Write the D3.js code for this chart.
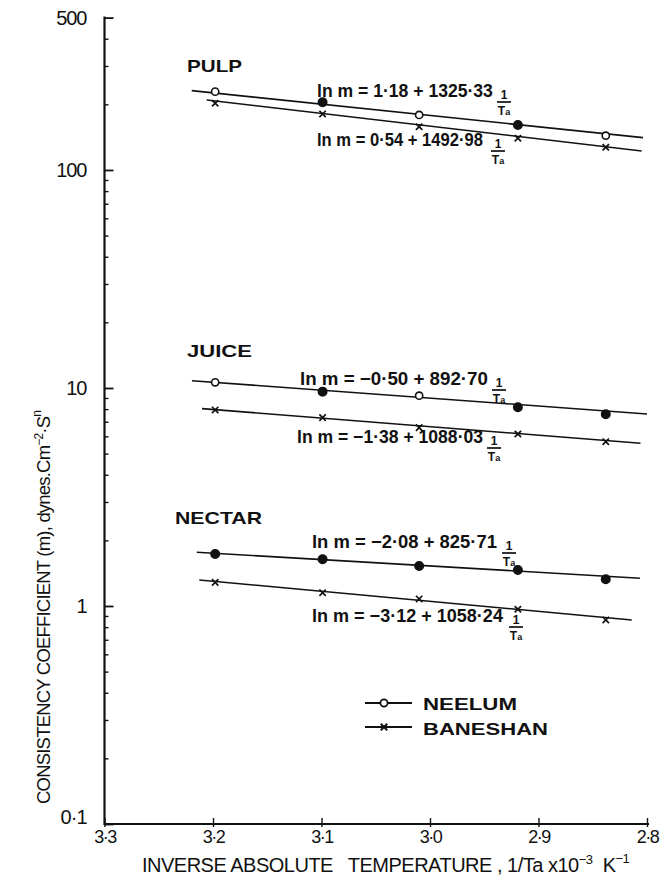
<!DOCTYPE html>
<html>
<head>
<meta charset="utf-8">
<script src="https://cdn.jsdelivr.net/npm/d3@7"></script>
<style>
  html, body { margin: 0; padding: 0; background: #fff; }
  svg { display: block; }
  text { font-family: "Liberation Sans", "DejaVu Sans", sans-serif; fill: #111; white-space: pre; }
</style>
</head>
<body>
<svg id="chart" width="669" height="877"></svg>
<script>
// ---------------- DATA ----------------
const categories = ["PULP", "JUICE", "NECTAR"];
const seriesNames = ["NEELUM", "BANESHAN"];
const invTemp = [3.198, 3.099, 3.010, 2.919, 2.838];   // 1/Ta x10^-3 K^-1

const neelumPulp     = [228.7, 204.5, 178.8, 160.9, 143.6];
const baneshanPulp   = [202.3, 180.7, 157.9, 139.8, 127.1];
const neelumJuice    = [10.62, 9.62, 9.22, 8.16, 7.58];
const baneshanJuice  = [7.93, 7.31, 6.58, 6.15, 5.67];
const neelumNectar   = [1.732, 1.638, 1.526, 1.463, 1.326];
const baneshanNectar = [1.284, 1.151, 1.077, 0.966, 0.863];

// open (hollow) vs filled circle for the Neelum points, as in the original
const neelumPulpOpen   = [true, false, true, false, true];
const neelumJuiceOpen  = [true, false, true, false, false];
const neelumNectarOpen = [false, false, false, false, false];

// fitted straight lines: [1/Ta, m] end points
const neelumPulpFit     = [[3.2196, 231.1], [2.8037, 140.7]];
const baneshanPulpFit   = [[3.2058, 209.5], [2.8049, 122.2]];
const neelumJuiceFit    = [[3.2194, 10.80], [2.8000, 7.60]];
const baneshanJuiceFit  = [[3.2101, 8.04],  [2.8060, 5.58]];
const neelumNectarFit   = [[3.2150, 1.763], [2.8065, 1.340]];
const baneshanNectarFit = [[3.2126, 1.316], [2.8141, 0.863]];

const eqNeelum   = ["ln m = 1·18 + 1325·33", "ln m = −0·50 + 892·70", "ln m = −2·08 + 825·71"];
const eqBaneshan = ["ln m = 0·54 + 1492·98", "ln m = −1·38 + 1088·03", "ln m = −3·12 + 1058·24"];

const xTicks = [3.3, 3.2, 3.1, 3.0, 2.9, 2.8];
const xTickLabels = ["3·3", "3·2", "3·1", "3·0", "2·9", "2·8"];
const yTicks = [0.1, 1, 10, 100, 500];
const yTickLabels = ["0·1", "1", "10", "100", "500"];

// ---------------- LAYOUT ----------------
const svg = d3.select("#chart");
const X0 = 104.5, X1 = 647, Y0 = 824, YTOP = 17.6;
const x = d3.scaleLinear().domain([3.3, 2.8]).range([X0, X1]);
const y = d3.scaleLog().domain([0.1, 500]).range([Y0, YTOP]);

const ink = "#111";

// y axis (ticks inside, labels outside)
const yAxis = d3.axisLeft(y)
  .tickValues(yTicks)
  .tickSize(-9)
  .tickPadding(18)
  .tickFormat(d => yTickLabels[yTicks.indexOf(d)]);
const gy = svg.append("g").attr("transform", `translate(${X0},0)`).call(yAxis);
gy.select(".domain").remove();
gy.selectAll(".tick line").attr("stroke", ink).attr("stroke-width", 1.8);
gy.selectAll(".tick text")
  .attr("font-size", 20).attr("fill", ink)
  .style("font-family", "'Liberation Sans', sans-serif")
  .attr("letter-spacing", -1);
gy.selectAll(".tick").filter(d => d === 0.1).select("text").attr("dy", "-0.05em");

// minor ticks
const minor = [];
[0.1, 1, 10, 100].forEach(dec => { for (let k = 2; k <= 9; k++) { const v = dec * k; if (v < 500) minor.push(v); } });
const gyMinor = svg.append("g").attr("transform", `translate(${X0},0)`)
  .call(d3.axisRight(y).tickValues(minor).tickSize(4).tickFormat(""));
gyMinor.select(".domain").remove();
gyMinor.selectAll(".tick line").attr("stroke", ink).attr("stroke-width", 1.4);

svg.append("line").attr("x1", X0).attr("x2", X0).attr("y1", YTOP - 1).attr("y2", Y0 + 1)
  .attr("stroke", ink).attr("stroke-width", 2.2);

// x axis
const xAxis = d3.axisBottom(x).tickValues(xTicks).tickSize(-6).tickPadding(6)
  .tickFormat(d => xTickLabels[xTicks.indexOf(d)]);
const gx = svg.append("g").attr("transform", `translate(0,${Y0})`).call(xAxis);
gx.select(".domain").remove();
gx.selectAll(".tick line").attr("stroke", ink).attr("stroke-width", 1.4).attr("y2", -6).attr("y1", 3);
gx.selectAll(".tick text").attr("font-size", 18).attr("fill", ink)
  .attr("letter-spacing", -1.5)
  .style("font-family", "'Liberation Sans', sans-serif");
svg.append("line").attr("x1", X0).attr("x2", X1 + 2).attr("y1", Y0).attr("y2", Y0)
  .attr("stroke", ink).attr("stroke-width", 2.2);

// axis titles
const xt = svg.append("text").attr("x", 142).attr("y", 872).attr("font-size", 20)
  .attr("letter-spacing", -0.5);
xt.append("tspan").text("INVERSE ABSOLUTE   TEMPERATURE , 1/Ta x10");
xt.append("tspan").attr("dy", -8).attr("font-size", 13).text("−3");
xt.append("tspan").attr("dy", 8).text("  K");
xt.append("tspan").attr("dy", -9).attr("font-size", 13).text("−1");

const yt = svg.append("text").attr("transform", "translate(50,804) rotate(-90)")
  .attr("font-size", 18.5).attr("letter-spacing", -0.8);
yt.append("tspan").text("CONSISTENCY COEFFICIENT (m), dynes.Cm");
yt.append("tspan").attr("dy", -7).attr("font-size", 12).text("−2");
yt.append("tspan").attr("dy", 7).text("·S");
yt.append("tspan").attr("dy", -9).attr("font-size", 12).text("n");

// ---------------- SERIES ----------------
const line = d3.line().x(d => x(d[0])).y(d => y(d[1]));
const groups = [
  { fitN: neelumPulpFit, fitB: baneshanPulpFit, n: neelumPulp, b: baneshanPulp, open: neelumPulpOpen },
  { fitN: neelumJuiceFit, fitB: baneshanJuiceFit, n: neelumJuice, b: baneshanJuice, open: neelumJuiceOpen },
  { fitN: neelumNectarFit, fitB: baneshanNectarFit, n: neelumNectar, b: baneshanNectar, open: neelumNectarOpen }
];

groups.forEach(g => {
  [g.fitN, g.fitB].forEach(f => {
    svg.append("path").datum(f).attr("d", line)
      .attr("fill", "none").attr("stroke", ink).attr("stroke-width", 1.6);
  });
  svg.append("g").selectAll("circle").data(g.n).join("circle")
    .attr("cx", (d, i) => x(invTemp[i])).attr("cy", d => y(d))
    .attr("r", (d, i) => g.open[i] ? 3.6 : 4.2)
    .attr("fill", (d, i) => g.open[i] ? "#fff" : ink)
    .attr("stroke", ink).attr("stroke-width", 1.6);
  const s = 3.2;
  svg.append("g").selectAll("path").data(g.b).join("path")
    .attr("d", (d, i) => {
      const cx = x(invTemp[i]), cy = y(d);
      return `M${cx - s},${cy - s}L${cx + s},${cy + s}M${cx + s},${cy - s}L${cx - s},${cy + s}`;
    })
    .attr("stroke", ink).attr("stroke-width", 1.7).attr("fill", "none");
});

// ---------------- LABELS ----------------
const catPos = [[187, 72, 55], [187, 357, 65], [175, 524, 87]];
categories.forEach((c, i) => {
  svg.append("text").attr("x", catPos[i][0]).attr("y", catPos[i][1])
    .attr("font-size", 17).attr("font-weight", "bold")
    .attr("textLength", catPos[i][2]).attr("lengthAdjust", "spacingAndGlyphs").text(c);
});

// equations: [x start, baseline, target width, fraction centre x]
const eqPosN = [[317, 97, 176, 504], [300, 385, 188, 499], [312, 548, 185, 509]];
const eqPosB = [[317, 146, 166, 498], [297, 443, 186, 494], [312, 622, 191, 516]];
function equation(txt, p) {
  const t = svg.append("text").attr("x", 0).attr("y", 0).attr("font-size", 19)
    .attr("font-weight", "bold").text(txt);
  const w = t.node().getComputedTextLength();
  const sx = p[2] / w;
  t.attr("transform", `translate(${p[0]},${p[1]}) scale(${sx},1)`);
  const bar = p[1] + 5;
  svg.append("line").attr("x1", p[3] - 7).attr("x2", p[3] + 7).attr("y1", bar).attr("y2", bar)
    .attr("stroke", ink).attr("stroke-width", 1.7);
  svg.append("text").attr("x", p[3]).attr("y", bar - 3).attr("text-anchor", "middle")
    .attr("font-size", 12).attr("font-weight", "bold").text("1");
  const den = svg.append("text").attr("x", p[3]).attr("y", bar + 13).attr("text-anchor", "middle")
    .attr("font-size", 12).attr("font-weight", "bold");
  den.append("tspan").text("T");
  den.append("tspan").attr("font-size", 9).text("a");
}
eqNeelum.forEach((t, i) => equation(t, eqPosN[i]));
eqBaneshan.forEach((t, i) => equation(t, eqPosB[i]));

// legend
const lg = svg.append("g");
[[703, 710], [727, 735]].forEach((row, i) => {
  lg.append("line").attr("x1", 365).attr("x2", 412).attr("y1", row[0]).attr("y2", row[0])
    .attr("stroke", ink).attr("stroke-width", 2);
  if (i === 0) {
    lg.append("circle").attr("cx", 384).attr("cy", row[0]).attr("r", 3.6)
      .attr("fill", "#fff").attr("stroke", ink).attr("stroke-width", 1.8);
  } else {
    const s = 3.2, cx = 384, cy = row[0];
    lg.append("path").attr("d", `M${cx - s},${cy - s}L${cx + s},${cy + s}M${cx + s},${cy - s}L${cx - s},${cy + s}`)
      .attr("stroke", ink).attr("stroke-width", 2);
  }
  lg.append("text").attr("x", 423).attr("y", row[1]).attr("font-size", 17).attr("font-weight", "bold")
    .attr("textLength", i === 0 ? 94 : 125).attr("lengthAdjust", "spacingAndGlyphs")
    .text(seriesNames[i]);
});
</script>
</body>
</html>
